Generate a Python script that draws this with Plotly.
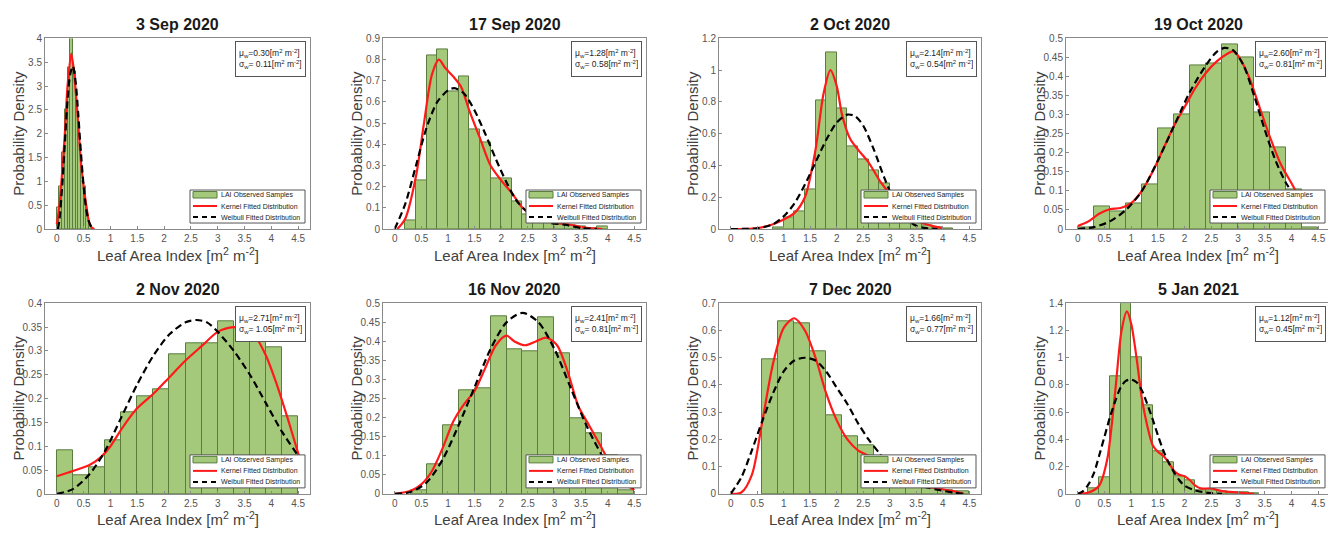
import plotly.graph_objects as go

# ---------------- data ----------------
titles = ["3 Sep 2020", "17 Sep 2020", "2 Oct 2020", "19 Oct 2020",
          "2 Nov 2020", "16 Nov 2020", "7 Dec 2020", "5 Jan 2021"]
mu_w = ["0.30", "1.28", "2.14", "2.60", "2.71", "2.41", "1.66", "1.12"]
sigma_w = ["0.11", "0.58", "0.54", "0.81", "1.05", "0.81", "0.77", "0.45"]

y_max = [4, 0.9, 1.2, 0.5, 0.4, 0.5, 0.7, 1.4]
y_step = [0.5, 0.1, 0.2, 0.05, 0.05, 0.05, 0.1, 0.2]
x_ticks = [0, 0.5, 1, 1.5, 2, 2.5, 3, 3.5, 4, 4.5]

# histogram bins: first left edge, bin width, densities
bin_start = [0.0, 0.2, 0.8, 0.0, 0.0, 0.3, 0.6, 0.2]
bin_width = [0.05, 0.2, 0.2, 0.3, 0.3, 0.3, 0.3, 0.2]
hist_1 = [0.45, 0.9, 1.6, 2.5, 3.4, 4.0, 3.3, 2.6, 1.8, 1.0, 0.9, 0.3, 0.05]
hist_2 = [0.04, 0.23, 0.82, 0.85, 0.65, 0.72, 0.47, 0.41, 0.24, 0.24, 0.13, 0.07,
          0.06, 0.03, 0.02, 0.015, 0.01, 0.005, 0.01]
hist_3 = [0.01, 0.07, 0.11, 0.25, 0.81, 1.11, 0.76, 0.52, 0.44, 0.37, 0.29, 0.13,
          0.08, 0.04, 0.02, 0.01, 0.005]
hist_4 = [0.005, 0.06, 0.045, 0.067, 0.117, 0.265, 0.30, 0.43, 0.435, 0.485, 0.45,
          0.305, 0.215, 0.105, 0.005]
hist_5 = [0.092, 0.038, 0.056, 0.112, 0.172, 0.205, 0.219, 0.292, 0.317, 0.317,
          0.362, 0.35, 0.32, 0.308, 0.163]
hist_6 = [0.01, 0.077, 0.18, 0.273, 0.277, 0.466, 0.38, 0.375, 0.463, 0.368, 0.197,
          0.158, 0.1, 0.01]
hist_7 = [0.493, 0.635, 0.628, 0.525, 0.29, 0.21, 0.18, 0.1, 0.06, 0.035, 0.02,
          0.015, 0.01]
hist_8 = [0.04, 0.12, 0.865, 1.4, 1.005, 0.65, 0.31, 0.23, 0.13, 0.1, 0.03, 0.03,
          0.02, 0.015, 0.01, 0.005]

# kernel fitted distribution
kernel_x_1 = [0, 0.05, 0.1, 0.15, 0.2, 0.27, 0.32, 0.4, 0.45, 0.5, 0.55, 0.6, 0.65, 0.7]
kernel_y_1 = [0.1, 0.5, 1.2, 2.0, 3.0, 3.68, 3.3, 2.2, 1.4, 0.9, 0.5, 0.15, 0.03, 0]
kernel_x_2 = [0.05, 0.2, 0.4, 0.55, 0.7, 0.83, 0.95, 1.1, 1.25, 1.4, 1.6, 1.8, 2.0,
              2.2, 2.4, 2.6, 2.8, 3.0, 3.3, 3.6, 3.9]
kernel_y_2 = [0, 0.05, 0.25, 0.5, 0.73, 0.80, 0.76, 0.72, 0.67, 0.56, 0.43, 0.3, 0.23,
              0.17, 0.1, 0.06, 0.04, 0.03, 0.02, 0.005, 0]
kernel_x_3 = [0, 0.5, 0.8, 1.0, 1.2, 1.4, 1.6, 1.75, 1.88, 2.0, 2.1, 2.25, 2.4, 2.6,
              2.8, 3.0, 3.2, 3.4, 3.6, 3.8, 4.0]
kernel_y_3 = [0, 0.005, 0.03, 0.06, 0.1, 0.2, 0.5, 0.85, 1.0, 0.9, 0.72, 0.57, 0.5,
              0.42, 0.31, 0.22, 0.13, 0.07, 0.04, 0.02, 0.005]
kernel_x_4 = [0, 0.2, 0.4, 0.6, 0.8, 1.0, 1.2, 1.4, 1.6, 1.8, 2.0, 2.2, 2.4, 2.6, 2.8,
              2.9, 3.0, 3.2, 3.4, 3.6, 3.8, 4.0, 4.2, 4.4]
kernel_y_4 = [0.008, 0.02, 0.04, 0.052, 0.055, 0.068, 0.1, 0.15, 0.21, 0.27, 0.32,
              0.37, 0.41, 0.44, 0.46, 0.466, 0.455, 0.40, 0.32, 0.24, 0.17, 0.12,
              0.07, 0.03]
kernel_x_5 = [0, 0.3, 0.6, 0.8, 1.0, 1.2, 1.5, 1.8, 2.1, 2.4, 2.7, 3.0, 3.3, 3.5,
              3.7, 3.9, 4.1, 4.3, 4.5, 4.6]
kernel_y_5 = [0.037, 0.048, 0.06, 0.075, 0.1, 0.135, 0.18, 0.21, 0.245, 0.28, 0.31,
              0.34, 0.35, 0.347, 0.33, 0.29, 0.23, 0.16, 0.085, 0.05]
kernel_x_6 = [0, 0.3, 0.5, 0.7, 0.9, 1.1, 1.3, 1.5, 1.7, 1.9, 2.1, 2.25, 2.45, 2.65,
              2.85, 3.05, 3.25, 3.45, 3.65, 3.85, 4.05, 4.3, 4.5]
kernel_y_6 = [0, 0.008, 0.025, 0.06, 0.12, 0.19, 0.235, 0.27, 0.33, 0.39, 0.415, 0.4,
              0.39, 0.4, 0.41, 0.39, 0.32, 0.23, 0.18, 0.13, 0.08, 0.03, 0.01]
kernel_x_7 = [0, 0.2, 0.4, 0.6, 0.8, 1.0, 1.2, 1.4, 1.6, 1.8, 2.0, 2.2, 2.4, 2.6,
              2.8, 3.0, 3.3, 3.6, 3.9, 4.2, 4.4]
kernel_y_7 = [0, 0.005, 0.07, 0.27, 0.48, 0.61, 0.645, 0.6, 0.5, 0.37, 0.27, 0.2,
              0.16, 0.14, 0.11, 0.08, 0.05, 0.03, 0.02, 0.01, 0]
kernel_x_8 = [0, 0.2, 0.4, 0.55, 0.7, 0.82, 0.92, 1.0, 1.1, 1.2, 1.3, 1.4, 1.5, 1.6,
              1.7, 1.8, 1.9, 2.0, 2.1, 2.2, 2.3, 2.5, 2.7, 3.0, 3.3]
kernel_y_8 = [0, 0.01, 0.06, 0.25, 0.75, 1.2, 1.34, 1.25, 1.0, 0.7, 0.5, 0.36, 0.31,
              0.28, 0.23, 0.17, 0.14, 0.13, 0.1, 0.06, 0.04, 0.04, 0.02, 0.01, 0]

# Weibull fitted distribution
weib_x_1 = [0.02, 0.05, 0.1, 0.15, 0.2, 0.25, 0.3, 0.35, 0.4, 0.45, 0.5, 0.55, 0.6,
            0.65, 0.7]
weib_y_1 = [0, 0.2, 0.9, 1.8, 2.7, 3.25, 3.42, 3.1, 2.4, 1.6, 0.9, 0.4, 0.15, 0.04, 0]
weib_x_2 = [0, 0.2, 0.4, 0.6, 0.8, 1.0, 1.12, 1.3, 1.5, 1.7, 1.9, 2.1, 2.3, 2.5, 2.7,
            2.9, 3.2, 3.5, 3.8]
weib_y_2 = [0, 0.12, 0.3, 0.48, 0.6, 0.655, 0.665, 0.64, 0.56, 0.45, 0.33, 0.22,
            0.13, 0.08, 0.05, 0.03, 0.02, 0.005, 0]
weib_x_3 = [0, 0.5, 0.8, 1.0, 1.2, 1.4, 1.6, 1.8, 2.0, 2.2, 2.35, 2.5, 2.7, 2.9, 3.1,
            3.3, 3.5, 3.7, 3.9]
weib_y_3 = [0, 0.005, 0.03, 0.08, 0.16, 0.28, 0.42, 0.56, 0.67, 0.72, 0.71, 0.65,
            0.5, 0.32, 0.17, 0.07, 0.02, 0.005, 0]
weib_x_4 = [0, 0.3, 0.6, 0.9, 1.2, 1.5, 1.8, 2.1, 2.4, 2.6, 2.75, 2.9, 3.1, 3.3, 3.5,
            3.7, 3.9, 4.1, 4.3]
weib_y_4 = [0, 0.005, 0.02, 0.05, 0.1, 0.18, 0.27, 0.36, 0.43, 0.465, 0.475, 0.47,
            0.43, 0.35, 0.26, 0.18, 0.12, 0.08, 0.04]
weib_x_5 = [0, 0.3, 0.6, 0.9, 1.2, 1.5, 1.8, 2.1, 2.4, 2.6, 2.8, 3.0, 3.3, 3.6, 3.9,
            4.2, 4.5]
weib_y_5 = [0, 0.01, 0.04, 0.09, 0.16, 0.23, 0.29, 0.335, 0.36, 0.365, 0.36, 0.34,
            0.3, 0.25, 0.19, 0.13, 0.08]
weib_x_6 = [0, 0.3, 0.6, 0.9, 1.2, 1.5, 1.8, 2.1, 2.4, 2.7, 3.0, 3.3, 3.6, 3.9, 4.2,
            4.5]
weib_y_6 = [0, 0.005, 0.03, 0.09, 0.18, 0.28, 0.38, 0.45, 0.475, 0.45, 0.38, 0.28,
            0.18, 0.1, 0.045, 0.015]
weib_x_7 = [0, 0.2, 0.4, 0.6, 0.8, 1.0, 1.2, 1.4, 1.6, 1.8, 2.0, 2.2, 2.4, 2.6, 2.8,
            3.0, 3.3, 3.6, 3.9, 4.2, 4.4]
weib_y_7 = [0, 0.06, 0.16, 0.27, 0.37, 0.45, 0.49, 0.5, 0.49, 0.45, 0.39, 0.33, 0.26,
            0.2, 0.15, 0.1, 0.055, 0.03, 0.015, 0.005, 0]
weib_x_8 = [0, 0.1, 0.2, 0.3, 0.4, 0.5, 0.6, 0.7, 0.8, 0.9, 1.0, 1.1, 1.2, 1.3, 1.4,
            1.5, 1.6, 1.7, 1.8, 1.9, 2.0, 2.2, 2.4, 2.7]
weib_y_8 = [0, 0.02, 0.07, 0.15, 0.28, 0.42, 0.56, 0.68, 0.78, 0.83, 0.84, 0.82,
            0.76, 0.66, 0.55, 0.43, 0.32, 0.23, 0.16, 0.1, 0.06, 0.025, 0.01, 0]

hists = [hist_1, hist_2, hist_3, hist_4, hist_5, hist_6, hist_7, hist_8]
kernels = [(kernel_x_1, kernel_y_1), (kernel_x_2, kernel_y_2), (kernel_x_3, kernel_y_3),
           (kernel_x_4, kernel_y_4), (kernel_x_5, kernel_y_5), (kernel_x_6, kernel_y_6),
           (kernel_x_7, kernel_y_7), (kernel_x_8, kernel_y_8)]
weibulls = [(weib_x_1, weib_y_1), (weib_x_2, weib_y_2), (weib_x_3, weib_y_3),
            (weib_x_4, weib_y_4), (weib_x_5, weib_y_5), (weib_x_6, weib_y_6),
            (weib_x_7, weib_y_7), (weib_x_8, weib_y_8)]

# ---------------- styling / layout ----------------
PAGE_W, PAGE_H = 1336, 538
OFF = 8                      # default page body margin
W, H = PAGE_W - OFF, PAGE_H - OFF
col_px = [(45, 310), (383, 646), (719, 981), (1066, 1330)]
row_px = [(33, 228), (304, 499)]
FONT = "Liberation Sans, Arial, sans-serif"
BAR_FILL = "#a5c97b"
BAR_EDGE = "#5a7d3f"
RED = "#ff1a1a"
AX = "#8a8a8a"
TXT = "#404040"

fig = go.Figure()
layout = dict(width=W, height=H, margin=dict(l=0, r=0, t=0, b=0, pad=0),
              paper_bgcolor="white", plot_bgcolor="white", showlegend=False,
              font=dict(family=FONT, color=TXT), bargap=0)
shapes, annotations = [], []

for i in range(8):
    n = i + 1
    r, c = divmod(i, 4)
    xk = "x" if n == 1 else f"x{n}"
    yk = "y" if n == 1 else f"y{n}"
    xd, yd = f"{xk} domain", f"{yk} domain"

    h = hists[i]
    centers = [bin_start[i] + bin_width[i] * (k + 0.5) for k in range(len(h))]
    fig.add_trace(go.Bar(x=centers, y=h, width=bin_width[i], xaxis=xk, yaxis=yk,
                         marker=dict(color=BAR_FILL, line=dict(color=BAR_EDGE, width=1)),
                         name="LAI Observed Samples"))
    kx, ky = kernels[i]
    fig.add_trace(go.Scatter(x=kx, y=ky, mode="lines", xaxis=xk, yaxis=yk,
                             line=dict(color=RED, width=2.2, shape="spline", smoothing=0.8),
                             name="Kernel Fitted Distribution"))
    wx, wy = weibulls[i]
    fig.add_trace(go.Scatter(x=wx, y=wy, mode="lines", xaxis=xk, yaxis=yk,
                             line=dict(color="black", width=2.2, dash="7px,4px",
                                       shape="spline", smoothing=0.8),
                             name="Weibull Fitted Distribution"))

    x0p, x1p = col_px[c]
    y0p, y1p = row_px[r]
    axname = "xaxis" if n == 1 else f"xaxis{n}"
    ayname = "yaxis" if n == 1 else f"yaxis{n}"
    common = dict(showline=True, mirror=True, linecolor=AX, linewidth=1,
                  ticks="inside", ticklen=3, tickcolor=AX, showgrid=False,
                  zeroline=False, tickfont=dict(size=10, color="#555555", family=FONT))
    layout[axname] = dict(domain=[(x0p - OFF) / W, (x1p - OFF) / W], range=[-0.22, 4.72],
                          tickvals=x_ticks, anchor=yk, **common)
    nt = int(round(y_max[i] / y_step[i]))
    layout[ayname] = dict(domain=[1 - (y1p - OFF) / H, 1 - (y0p - OFF) / H],
                          range=[0, y_max[i]],
                          tickvals=[round(k * y_step[i], 3) for k in range(nt + 1)],
                          anchor=xk, **common)

    # title and axis labels
    annotations.append(dict(text=f"<b>{titles[i]}</b>", xref=xd, yref=yd, x=0.5, y=1,
                            xanchor="center", yanchor="bottom", yshift=3, showarrow=False,
                            font=dict(size=16, color="#1a1a1a", family=FONT)))
    annotations.append(dict(text="Probability Density", xref=xd, yref=yd, x=0, y=0.5,
                            textangle=-90, xanchor="center", yanchor="middle", xshift=-26,
                            showarrow=False, font=dict(size=15, color=TXT, family=FONT)))
    annotations.append(dict(text="Leaf Area Index [m<sup>2</sup> m<sup>-2</sup>]",
                            xref=xd, yref=yd, x=0.5, y=0, xanchor="center",
                            yanchor="middle", yshift=-25, showarrow=False,
                            font=dict(size=15, color=TXT, family=FONT)))
    # statistics box
    annotations.append(dict(
        text=(f"μ<sub>w</sub>={mu_w[i]}[m<sup>2</sup> m<sup>-2</sup>]<br>"
              f"σ<sub>w</sub>= {sigma_w[i]}[m<sup>2</sup> m<sup>-2</sup>]"),
        xref=xd, yref=yd, x=1, y=1, xanchor="right", yanchor="top", xshift=-4,
        yshift=-3, align="left", showarrow=False, bgcolor="white",
        bordercolor="#555555", borderwidth=1, borderpad=3, height=28,
        font=dict(size=8.5, color="#222222", family=FONT)))

    # legend box (drawn in pixel units from the bottom-right corner)
    pix = dict(xref=xd, yref=yd, xsizemode="pixel", ysizemode="pixel",
               xanchor=1, yanchor=0, layer="above")
    shapes.append(dict(type="rect", x0=-120, x1=-5, y0=6, y1=39,
                       fillcolor="white", line=dict(color="#555555", width=1), **pix))
    shapes.append(dict(type="rect", x0=-117, x1=-93, y0=31, y1=37.5,
                       fillcolor=BAR_FILL, line=dict(color=BAR_EDGE, width=1), **pix))
    shapes.append(dict(type="line", x0=-117, x1=-93, y0=23, y1=23,
                       line=dict(color=RED, width=2), **pix))
    shapes.append(dict(type="line", x0=-117, x1=-93, y0=12, y1=12,
                       line=dict(color="black", width=2, dash="5px,4px"), **pix))
    for label, yy in [("LAI Observed Samples", 34), ("Kernel Fitted Distribution", 23),
                      ("Weibull Fitted Distribution", 12)]:
        annotations.append(dict(text=label, xref=xd, yref=yd, x=1, y=0,
                                xanchor="left", yanchor="middle", xshift=-91, yshift=yy,
                                showarrow=False,
                                font=dict(size=7, color="#222222", family=FONT)))

layout["shapes"] = shapes
layout["annotations"] = annotations
fig.update_layout(**layout)
fig.write_html("out.html")
